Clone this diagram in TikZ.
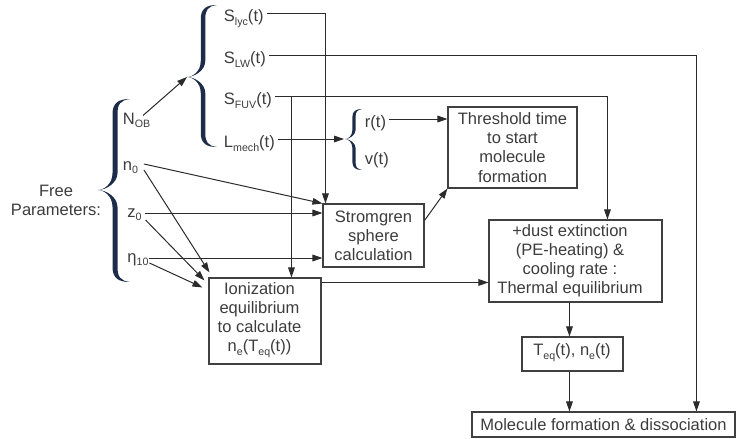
\documentclass[tikz,border=0pt]{standalone}
\usepackage{fontspec}
\setmainfont{Liberation Sans}
\usetikzlibrary{arrows.meta,calc}
\definecolor{txtc}{HTML}{3C3C3C}
\definecolor{lnc}{HTML}{2B2B2B}
\definecolor{boxc}{HTML}{404040}
\definecolor{brc}{HTML}{1D2C48}
\newcommand{\sbs}[1]{\raisebox{-2.8pt}{\fontsize{8}{8}\selectfont #1}}
% filled curly brace: xl (tip), xm (stem), xr (ends), ytop, ymid, ybot, thickness
\newcommand{\fbrace}[7]{%
 \pgfmathsetmacro\bk{#3-#2}%
 \pgfmathsetmacro\bj{#2-#1}%
 \pgfmathsetmacro\bh{#7/2}%
 \fill[brc] (#3,#4) .. controls ({#2+0.25*\bk},#4) and ({#2-\bh},{#4+0.25*\bk}) .. ({#2-\bh},{#4+\bk})
   -- ({#2-\bh},{#5-\bj}) .. controls ({#2-\bh},{#5-0.3*\bj}) and ({#1+0.3*\bj},#5) .. (#1,#5)
   .. controls ({#1+0.3*\bj},#5) and ({#2-\bh},{#5+0.3*\bj}) .. ({#2-\bh},{#5+\bj})
   -- ({#2-\bh},{#6-\bk}) .. controls ({#2-\bh},{#6-0.25*\bk}) and ({#2+0.25*\bk},#6) .. (#3,#6)
   .. controls ({#2+0.35*\bk},{#6-1.2}) and ({#2+\bh},{#6-0.35*\bk}) .. ({#2+\bh},{#6-\bk})
   -- ({#2+\bh},{#5+\bj}) .. controls ({#2+\bh},{#5+0.4*\bj}) and ({#1+0.45*\bj},#5) .. (#1,#5)
   .. controls ({#1+0.45*\bj},#5) and ({#2+\bh},{#5-0.4*\bj}) .. ({#2+\bh},{#5-\bj})
   -- ({#2+\bh},{#4+\bk}) .. controls ({#2+\bh},{#4+0.35*\bk}) and ({#2+0.35*\bk},{#4+1.2}) .. (#3,#4) -- cycle;}
\begin{document}
\begin{tikzpicture}[x=0.75pt,y=-0.75pt,
  font=\fontsize{12.4}{14.3}\selectfont, text=txtc,
  box/.style={draw=boxc, line width=0.8pt, align=center, inner sep=0pt},
  txtnode/.style={align=center, inner sep=0pt},
  lab/.style={inner sep=2pt, text height=12.75pt, text depth=0pt, anchor=west},
  conn/.style={draw=lnc, line width=0.75pt},
  arr/.style={conn, -{Triangle[length=7.5pt,width=5pt]}}]
\useasboundingbox (0,0) rectangle (751,439);

% braces
\fbrace{98}{115}{130}{99}{190}{282}{5}
\fbrace{187}{203}{217}{5}{77}{147}{4.5}
\fbrace{345}{354}{362}{109}{139}{170}{3.2}
\coordinate (btip) at (187,77);
\coordinate (rvtip) at (344,139);

% labels
\node[txtnode] (free) at (56,200) {Free\\Parameters:};
\node[lab] (nob) at (120,115.5) {N\sbs{OB}};
\node[lab] (n0) at (120,161.5) {n\sbs{0}};
\node[lab] (z0) at (124.5,208.5) {z\sbs{0}};
\node[lab] (eta) at (124.5,253.5) {η\sbs{10}};
\node[lab] (slyc) at (221,13) {S\sbs{lyc}(t)};
\node[lab] (slw) at (221,55) {S\sbs{LW}(t)};
\node[lab] (sfuv) at (221,96) {S\sbs{FUV}(t)};
\node[lab] (lmech) at (221,139) {L\sbs{mech}(t)};
\node[lab] (rt) at (362,119) {r(t)};
\node[lab] (vt) at (362,156) {v(t)};

% boxes
\node[box, minimum width=96.75pt, minimum height=60.75pt] (thr) at (512.5,147.5) {Threshold time\\to start\\molecule\\formation};
\node[box, minimum width=75.75pt, minimum height=47.25pt] (strom) at (373.5,235.5) {Stromgren\\sphere\\calculation};
\node[box, minimum width=129.75pt, minimum height=61.5pt] (dust) at (575.5,261) {};
\node[txtnode] (dusttxt) at (570,261) {+dust extinction\\(PE-heating) \&\\cooling rate :\\Thermal equilibrium};
\node[box, minimum width=84pt, minimum height=64.5pt] (ion) at (265,321) {};
\node[txtnode] (iontxt) at (259.5,320) {Ionization\\equilibrium\\to calculate\\n\sbs{e}(T\sbs{eq}(t))};
\node[box, minimum width=75.75pt, minimum height=25.5pt] (teq) at (572.5,354) {};
\node[txtnode] (teqtxt) at (572,352.5) {T\sbs{eq}(t), n\sbs{e}(t)};
\node[box, minimum width=197.25pt, minimum height=18.75pt] (mol) at (603.5,424.5) {Molecule formation \& dissociation};

% connectors from the source terms
\draw[arr] (nob.west) ++(23,0) -- (btip);
\draw[arr] (slyc.east) -| ($(strom.north west)+(3,0)$);
\draw[arr] (slw.east) -| ($(mol.north west)+(225,0)$);
\draw[arr] (sfuv.east) -| ($(dust.north west)+(119,0)$);
\coordinate (fb) at ($(ion.north west)+(83,0)$);
\draw[arr] (sfuv.east -| fb) -- (fb);
\draw[arr] (lmech.east) -- (rvtip);
\draw[arr] (rt.east) -- (rt.east -| thr.west);

% free parameters
\draw[arr] ($(n0.east)+(3,2.5)$) -- (strom.north west);
\draw[arr] ($(n0.east)+(3,8.5)$) -- ($(ion.north west)+(1,-5)$);
\draw[arr] ($(z0.east)+(0,4.5)$) coordinate (zs) -- (zs -| strom.west);
\draw[arr] ($(z0.east)+(1,11.5)$) -- ($(ion.north west)+(-4,3)$);
\draw[arr] ($(eta.east)+(-2,4.5)$) coordinate (es) -- (es -| strom.west);
\draw[arr] ($(eta.east)+(-2,9.5)$) -- ($(ion.north west)+(-6,10)$);

% box to box
\draw[arr] ($(strom.north east)+(0,17)$) -- (thr.south west);
\draw[arr] ($(ion.north east)+(0,5)$) coordinate (idq) -- (idq -| dust.west);
\draw[arr] ($(dust.south west)+(81,0)$) -- ($(teq.north west)+(48,0)$);
\draw[arr] ($(teq.south west)+(48,0)$) coordinate (tq) -- (tq |- mol.north);
\end{tikzpicture}
\end{document}
